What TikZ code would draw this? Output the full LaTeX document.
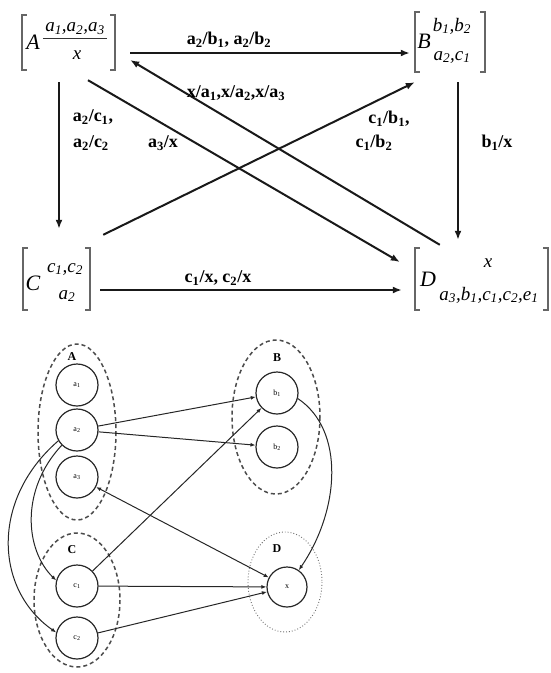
\documentclass[tikz,border=0pt]{standalone}
\usepackage{fontspec}
\setmainfont{Liberation Serif}
\usetikzlibrary{arrows.meta,calc}
\newcommand{\mysb}[2]{#1\textsubscript{#2}}
\begin{document}
\begin{tikzpicture}[x=1pt,y=-1pt,
  matbox/.style={draw=none,inner sep=0pt},
  brk/.style={draw=black!60,line width=1.8pt},
  mtxt/.style={font=\fontsize{19}{21}\selectfont\itshape,inner sep=0pt},
  mbig/.style={font=\fontsize{22}{24}\selectfont\itshape,inner sep=0pt},
  lbl/.style={font=\fontsize{18}{20}\selectfont\bfseries,inner sep=0pt,align=left},
  big/.style={draw=black!90,line width=2pt,-{Latex[length=9pt,width=7pt]}},
  grp/.style={draw=black!70,line width=1.5pt,dash pattern=on 4pt off 3pt},
  grpd/.style={draw=black!55,line width=0.9pt,dotted},
  st/.style={circle,draw=black!85,line width=1.2pt,minimum size=42pt,inner sep=0pt,font=\fontsize{8}{9}\selectfont},
  sm/.style={draw=black!85,line width=1pt,-{Latex[length=5pt,width=4pt]}},
  glbl/.style={font=\fontsize{12}{13}\selectfont\bfseries,inner sep=0pt}]
\useasboundingbox (0,0) rectangle (551,673);
% ---------- top: matrices ----------
\node[matbox,minimum width=93pt,minimum height=55pt] (A) at (68.5,42.5) {};
\node[matbox,minimum width=70pt,minimum height=60pt] (B) at (450,42) {};
\node[matbox,minimum width=67pt,minimum height=62pt] (C) at (56.5,279) {};
\node[matbox,minimum width=133pt,minimum height=62pt] (D) at (481.5,279) {};
\foreach \m in {A,B,C,D}{
  \draw[brk] ($(\m.north west)+(5,0)$) -- (\m.north west) -- (\m.south west) -- ($(\m.south west)+(5,0)$);
  \draw[brk] ($(\m.north east)+(-5,0)$) -- (\m.north east) -- (\m.south east) -- ($(\m.south east)+(-5,0)$);
}
\node[mbig] (Aname) at (33,42) {A};
\node[mtxt] (Anum) at (75,29) {\mysb{a}{1},\mysb{a}{2},\mysb{a}{3}};
\draw[line width=0.8pt,black!80] ($(A.west)+(21,-4)$) coordinate (Abar1) -- ($(A.east)+(-8,-4)$) coordinate (Abar2);
\node[mtxt] (Aden) at (77,55) {x};
\node[mbig] (Bname) at (424,41) {B};
\node[mtxt] (Btop) at (452,26) {\mysb{b}{1},\mysb{b}{2}};
\node[mtxt] (Bbot) at (452,57) {\mysb{a}{2},\mysb{c}{1}};
\node[mbig] (Cname) at (33,283) {C};
\node[mtxt] (Ctop) at (65,269) {\mysb{c}{1},\mysb{c}{2}};
\node[mtxt] (Cbot) at (67,296) {\mysb{a}{2}};
\node[mbig] (Dname) at (428,279) {D};
\node[mtxt] (Dtop) at (488,263) {x};
\node[mtxt] (Dbot) at (489,295) {\mysb{a}{3},\mysb{b}{1},\mysb{c}{1},\mysb{c}{2},\mysb{e}{1}};
% ---------- top: transitions ----------
\draw[big] ($(A.east)+(15,10.5)$) -- ($(B.west)+(-5,11)$);
\draw[big] ($(D.north west)+(25,-3)$) -- ($(A.east)+(15,17.5)$);
\draw[big] ($(C.north east)+(13,-13)$) -- ($(B.south west)+(0,10)$);
\draw[big] ($(A.south)+(19.5,10)$) -- ($(D.west)+(-15,-17)$);
\draw[big] ($(A.south)+(-9.5,12)$) -- ($(C.north)+(2.5,-19)$);
\draw[big] ($(B.south)+(8,10)$) -- ($(D.north)+(-23.5,-8)$);
\draw[big] ($(C.east)+(10,11)$) -- ($(D.west)+(-13,11)$);
\node[lbl] (lAB) at (229,40) {a\textsubscript{2}/b\textsubscript{1}, a\textsubscript{2}/b\textsubscript{2}};
\node[lbl] (lDA) at (236,93) {x/a\textsubscript{1},x/a\textsubscript{2},x/a\textsubscript{3}};
\node[lbl] (lCB1) at (389,119) {c\textsubscript{1}/b\textsubscript{1},};
\node[lbl] (lCB2) at (374,143) {c\textsubscript{1}/b\textsubscript{2}};
\node[lbl] (lAD) at (163,143) {a\textsubscript{3}/x};
\node[lbl] (lAC1) at (93,117) {a\textsubscript{2}/c\textsubscript{1},};
\node[lbl] (lAC2) at (91,143) {a\textsubscript{2}/c\textsubscript{2}};
\node[lbl] (lBD) at (497,143) {b\textsubscript{1}/x};
\node[lbl] (lCD) at (218,278) {c\textsubscript{1}/x, c\textsubscript{2}/x};
% ---------- bottom: groups ----------
\draw[grp] (77,432) ellipse [x radius=39, y radius=88];
\draw[grp] (276,417) ellipse [x radius=44, y radius=77];
\draw[grp] (77,600) ellipse [x radius=43, y radius=67];
\draw[grpd] (285,582) ellipse [x radius=37, y radius=50];
\node[glbl] (gA) at (72,357) {A};
\node[glbl] (gB) at (277,358) {B};
\node[glbl] (gC) at (72,550) {C};
\node[glbl] (gD) at (277,549) {D};
\node[st] (a1) at (77,385) {a\textsubscript{1}};
\node[st] (a2) at (77,430) {a\textsubscript{2}};
\node[st] (a3) at (77,477) {a\textsubscript{3}};
\node[st] (b1) at (277,393) {b\textsubscript{1}};
\node[st] (b2) at (277,447) {b\textsubscript{2}};
\node[st] (c1) at (77,586) {c\textsubscript{1}};
\node[st] (c2) at (77,638) {c\textsubscript{2}};
\node[st,minimum size=40pt] (x) at (287,587) {x};
% ---------- bottom: edges ----------
\draw[sm] (a2) -- (b1);
\draw[sm] (a2) -- (b2);
\draw[sm,{Latex[length=5pt,width=4pt]}-{Latex[length=5pt,width=4pt]}] (a3) -- (x);
\draw[sm] (c1) -- (b1);
\draw[sm] (c1) -- (x);
\draw[sm] (c2) -- (x);
\draw[sm] (a2.225) .. controls (20,490) and (25,550) .. (c1.165);
\draw[sm] (a2.210) .. controls (-10,500) and (-5,590) .. (c2.165);
\draw[sm] (b1.-15) .. controls (345,430) and (340,510) .. (x.55);
\end{tikzpicture}
\end{document}
